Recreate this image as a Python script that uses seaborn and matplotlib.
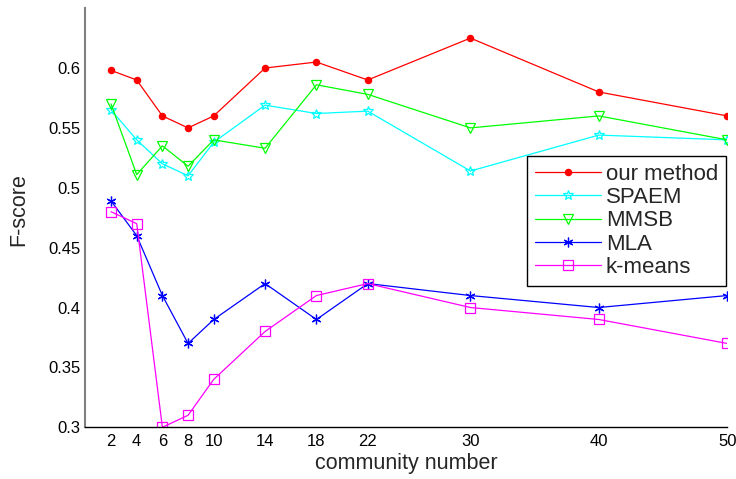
import matplotlib
matplotlib.use("Agg")
import matplotlib.pyplot as plt
import seaborn as sns
import pandas as pd

sns.set_theme(style="white")
plt.rcParams['font.family'] = ['Liberation Sans', 'DejaVu Sans']

community = [2, 4, 6, 8, 10, 14, 18, 22, 30, 40, 50]
our_method = [0.598, 0.590, 0.560, 0.550, 0.560, 0.600, 0.605, 0.590, 0.625, 0.580, 0.560]
spaem = [0.565, 0.540, 0.520, 0.510, 0.538, 0.569, 0.562, 0.564, 0.514, 0.544, 0.540]
mmsb = [0.570, 0.511, 0.535, 0.518, 0.540, 0.533, 0.586, 0.578, 0.550, 0.560, 0.540]
mla = [0.489, 0.460, 0.410, 0.370, 0.390, 0.420, 0.390, 0.420, 0.410, 0.400, 0.410]
kmeans = [0.480, 0.470, 0.300, 0.310, 0.340, 0.380, 0.410, 0.420, 0.400, 0.390, 0.370]

series = {
    "our method": our_method,
    "SPAEM": spaem,
    "MMSB": mmsb,
    "MLA": mla,
    "k-means": kmeans,
}
colors = {"our method": "#ff0000", "SPAEM": "#00ffff", "MMSB": "#00ff00",
          "MLA": "#0000ff", "k-means": "#ff00ff"}
markers = {"our method": "o", "SPAEM": "*", "MMSB": "v", "MLA": (6, 2, 0), "k-means": "s"}
msizes = {"our method": 4.5, "SPAEM": 7, "MMSB": 7.5, "MLA": 7, "k-means": 7}

rows = []
for name, vals in series.items():
    for c, v in zip(community, vals):
        rows.append({"community": c, "F-score": v, "method": name})
df = pd.DataFrame(rows)

fig = plt.figure(figsize=(7.36, 4.79), dpi=100)
ax = fig.add_axes([0.116, 0.108, 0.872, 0.875])

for name in series:
    sub = df[df["method"] == name]
    filled = name == "our method"
    sns.lineplot(data=sub, x="community", y="F-score", ax=ax, color=colors[name],
                 linewidth=0.9, marker=markers[name], markersize=msizes[name],
                 markerfacecolor=colors[name] if filled else "none",
                 markeredgecolor=colors[name], markeredgewidth=0.9,
                 label=name, estimator=None)

ax.set_xlim(0, 50)
ax.set_ylim(0.3, 0.65)
ax.set_xticks(community)
ax.set_yticks([0.3, 0.35, 0.4, 0.45, 0.5, 0.55, 0.6])
ax.set_yticklabels(["0.3", "0.35", "0.4", "0.45", "0.5", "0.55", "0.6"])
ax.tick_params(direction="in", length=4, labelsize=12, colors="black", width=0.8)
ax.tick_params(axis="x", pad=5)
ax.set_xlabel("community number", fontsize=15.5, labelpad=3)
ax.set_ylabel("F-score", fontsize=15.5)
ax.yaxis.set_label_coords(-0.088, 0.52)
for s in ["top", "right"]:
    ax.spines[s].set_visible(False)
ax.spines["left"].set_color("#808080")
ax.spines["left"].set_linewidth(1.5)
ax.spines["bottom"].set_color("black")
ax.spines["bottom"].set_linewidth(1.0)

leg = ax.legend(loc="upper right", bbox_to_anchor=(0.998, 0.647), fontsize=16,
                frameon=True, fancybox=False, edgecolor="black", framealpha=1,
                handlelength=3.0, borderpad=0.35, labelspacing=0.1,
                handletextpad=0.2, borderaxespad=0)
leg.get_frame().set_linewidth(1.0)

fig.savefig("out.png", dpi=100)
